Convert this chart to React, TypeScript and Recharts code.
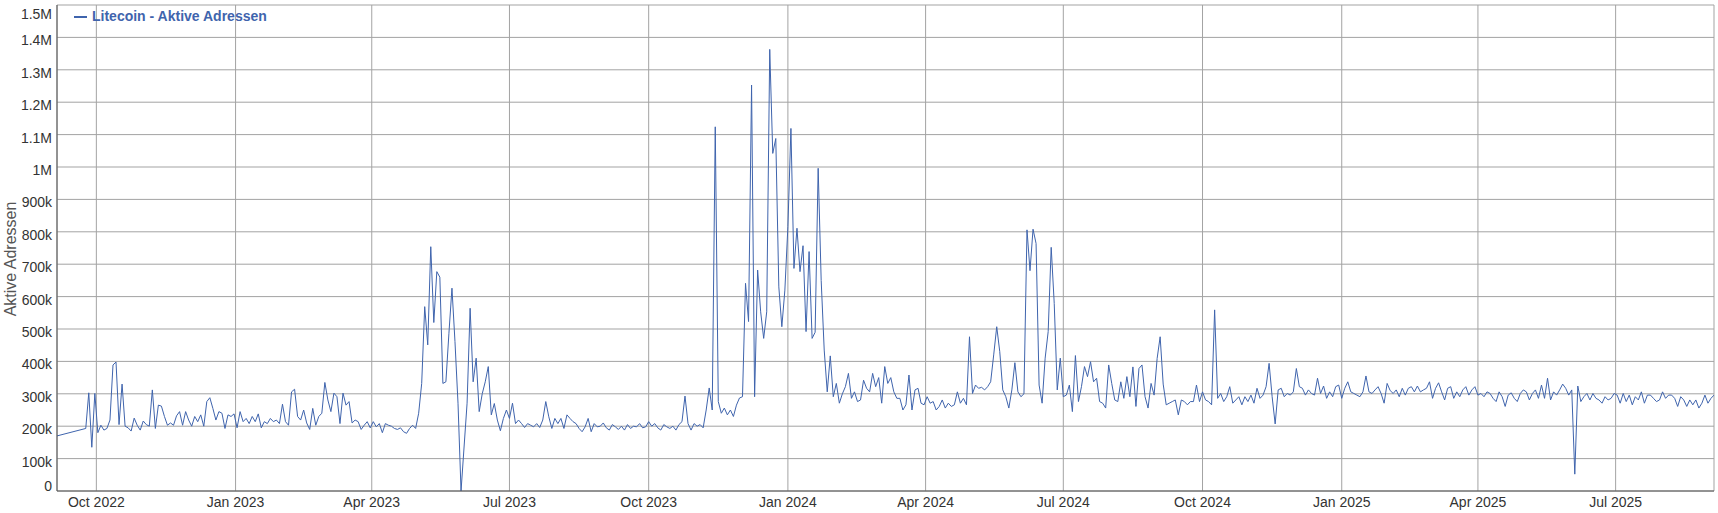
import { LineChart, Line, XAxis, YAxis, CartesianGrid } from "recharts"

// Litecoin active addresses, in thousands, one value every 2 days from 24 Sep 2022
const sep2022ToApr2023 = [
    193, 303, 135, 301, 180, 203, 188, 193, 219, 389,
    398, 205, 330, 200, 195, 185, 225, 203, 188, 216,
    205, 200, 312, 193, 265, 262, 230, 203, 210, 203,
    232, 245, 203, 245, 219, 200, 230, 214, 235, 200,
    276, 288, 255, 219, 245, 240, 193, 235, 230, 238,
    195, 245, 214, 224, 208, 230, 214, 238, 195, 214,
    208, 224, 214, 219, 208, 268, 214, 203, 306, 314,
    230, 219, 250, 210, 190, 255, 203, 230, 240, 335,
    281, 245, 302, 291, 208, 302, 265, 276, 210, 219,
    214, 190, 203, 214, 195, 214, 198, 208, 180, 208,
]

const apr2023ToOct2023 = [
    203, 200, 193, 190, 195, 183, 178, 193, 203, 193,
    240, 332, 569, 451, 754, 520, 677, 660, 332, 337,
    487, 626, 461, 271, 0, null, 271, 564, 337, 410,
    245, 300, 337, 384, 235, 270, 219, 186, 224, 250,
    224, 271, 208, 219, 208, 196, 208, 203, 198, 208,
    196, 219, 276, 229, 193, 224, 208, 224, 193, 235,
    224, 214, 208, 193, 183, 198, 224, 183, 208, 198,
    200, 210, 195, 188, 205, 198, 190, 200, 188, 205,
    193, 200, 198, 208, 195, 198, 214, 200, 208, 195,
    188, 205, 198, 193, 200, 188, 205, 214, 293, 208,
]

const oct2023ToMay2024 = [
    188, 208, 200, 205, 195, 250, 318, 250, 1124, 276,
    240, 256, 235, 250, 230, 265, 287, 291, 641, 523,
    1253, 291, 682, 553, 471, 553, 1363, 1042, 1088, 630,
    507, 620, 816, 1119, 687, 811, 677, 757, 492, 739,
    471, 490, 996, 650, 435, 306, 417, 291, 332, 271,
    300, 322, 363, 286, 306, 276, 281, 342, 317, 306,
    363, 322, 350, 271, 384, 332, 350, 306, 286, 286,
    250, 266, 358, 250, 312, 317, 271, 266, 291, 271,
    276, 250, 261, 281, 256, 271, 261, 266, 306, 271,
    286, 266, 476, 301, 327, 317, 320, 312, 322, 337,
]

const may2024ToDec2024 = [
    420, 507, 430, 312, 291, 256, 312, 396, 306, 291,
    300, 806, 680, 808, 764, 327, 271, 410, 492, 752,
    579, 312, 410, 291, 296, 327, 245, 418, 276, 322,
    384, 353, 399, 337, 348, 276, 271, 256, 389, 332,
    281, 276, 337, 286, 353, 291, 383, 261, 378, 389,
    291, 256, 332, 296, 409, 476, 330, 266, 271, 276,
    281, 235, 281, 276, 266, 276, 276, 327, 276, 306,
    281, 276, 266, 559, 286, 301, 276, 291, 322, 271,
    281, 291, 266, 291, 276, 296, 271, 317, 286, 296,
    322, 394, 291, 207, 312, 317, 291, 301, 296, 306,
]

const dec2024ToSep2025 = [
    378, 322, 317, 296, 312, 301, 296, 348, 301, 324,
    286, 306, 291, 322, 327, 286, 317, 337, 306, 301,
    296, 291, 306, 355, 306, 301, 312, 322, 301, 271,
    332, 310, 301, 312, 291, 317, 296, 317, 322, 306,
    324, 306, 312, 317, 337, 286, 317, 334, 306, 281,
    317, 322, 286, 306, 291, 312, 322, 296, 312, 322,
    296, 301, 291, 306, 301, 286, 276, 306, 291, 261,
    296, 303, 286, 276, 301, 312, 306, 281, 301, 312,
    286, 327, 286, 348, 281, 306, 296, 312, 330, 317,
    296, 312, 52, 324, 276, 291, 301, 281, 301, 286,
    281, 271, 291, 281, 286, 301, 296, 271, 301, 276,
    296, 266, 291, 281, 306, 271, 296, 296, 286, 276,
    281, 306, 286, 296, 296, 286, 261, 291, 281, 261,
    281, 266, 281, 256, 271, 296, 271, 286, 296,
]

// single reading before the gap in early September 2022
const firstReading = { date: Date.UTC(2022, 8, 5), value: 170 }

const xTickDates = [
    Date.UTC(2022, 9, 1), Date.UTC(2023, 0, 1), Date.UTC(2023, 3, 1), Date.UTC(2023, 6, 1),
    Date.UTC(2023, 9, 1), Date.UTC(2024, 0, 1), Date.UTC(2024, 3, 1), Date.UTC(2024, 6, 1),
    Date.UTC(2024, 9, 1), Date.UTC(2025, 0, 1), Date.UTC(2025, 3, 1), Date.UTC(2025, 6, 1),
]
const xTickLabels = [
    "Oct 2022", "Jan 2023", "Apr 2023", "Jul 2023",
    "Oct 2023", "Jan 2024", "Apr 2024", "Jul 2024",
    "Oct 2024", "Jan 2025", "Apr 2025", "Jul 2025",
]
const yTicks = [
    0, 100000, 200000, 300000, 400000, 500000, 600000, 700000,
    800000, 900000, 1000000, 1100000, 1200000, 1300000, 1400000, 1500000,
]

const DAY = 86400000
const START = Date.UTC(2022, 8, 24)
const STEP_DAYS = 2
const X_DOMAIN = [Date.UTC(2022, 8, 5), Date.UTC(2025, 8, 4)]

const LINE_COLOR = "#3f64ad"
const FONT = "'Liberation Sans', Arial, sans-serif"

const readings = [
    ...sep2022ToApr2023,
    ...apr2023ToOct2023,
    ...oct2023ToMay2024,
    ...may2024ToDec2024,
    ...dec2024ToSep2025,
]

const data = [
    { t: firstReading.date, v: firstReading.value * 1000 },
    ...readings
        .map((k, i) => (k === null ? null : { t: START + i * STEP_DAYS * DAY, v: k * 1000 }))
        .filter((p): p is { t: number; v: number } => p !== null),
]

const formatY = (v: number) => {
    if (v === 0) return "0"
    if (v >= 1000000) return `${v / 1000000}M`
    return `${v / 1000}k`
}

const YTick = (props: any) => {
    const { x, y, payload } = props
    // labels sit a little below their grid line, kept inside the plot at both ends
    const cy = Math.min(Math.max(y + 3, 14), 486)
    return (
        <text x={x} y={cy} dy={5} textAnchor="end" fill="#333" fontSize={14} fontFamily={FONT}>
            {formatY(payload.value)}
        </text>
    )
}

const XTick = (props: any) => {
    const { x, y, payload } = props
    const idx = xTickDates.indexOf(payload.value)
    return (
        <text x={x} y={y} dy={16} textAnchor="middle" fill="#333" fontSize={14} fontFamily={FONT}>
            {xTickLabels[idx]}
        </text>
    )
}

const YLabel = (props: any) => {
    const vb = props.viewBox
    const cx = 10
    const cy = vb.y + vb.height / 2 + 11
    return (
        <text
            x={cx}
            y={cy}
            transform={`rotate(-90, ${cx}, ${cy})`}
            textAnchor="middle"
            dominantBaseline="central"
            fill="#555"
            fontSize={16}
            fontFamily={FONT}
        >
            Aktive Adressen
        </text>
    )
}

export default function App() {
    return (
        <div style={{ position: "absolute", left: 0, top: 0, width: 1718, height: 513, background: "#fff" }}>
            <LineChart width={1718} height={513} data={data} margin={{ top: 5, right: 4, bottom: 0, left: 0 }}>
                <CartesianGrid stroke="#a3a3a3" strokeWidth={1} />
                <XAxis
                    dataKey="t"
                    type="number"
                    domain={X_DOMAIN}
                    ticks={xTickDates}
                    allowDataOverflow
                    height={22}
                    tickSize={0}
                    tickMargin={0}
                    tickLine={false}
                    axisLine={{ stroke: "#555" }}
                    tick={<XTick />}
                />
                <YAxis
                    type="number"
                    domain={[0, 1500000]}
                    ticks={yTicks}
                    width={57}
                    tickSize={5}
                    tickMargin={0}
                    tickLine={false}
                    axisLine={{ stroke: "#555" }}
                    tick={<YTick />}
                    label={{ content: <YLabel /> }}
                />
                <Line
                    type="linear"
                    dataKey="v"
                    stroke={LINE_COLOR}
                    strokeWidth={1}
                    dot={false}
                    activeDot={false}
                    isAnimationActive={false}
                />
            </LineChart>

            {/* Legend */}
            <div
                style={{
                    position: "absolute",
                    left: 74,
                    top: 8,
                    display: "flex",
                    alignItems: "center",
                    gap: 5,
                    fontFamily: FONT,
                    fontSize: 14,
                    fontWeight: "bold",
                    color: LINE_COLOR,
                    lineHeight: "17px",
                }}
            >
                <span style={{ display: "inline-block", width: 13, height: 2, background: LINE_COLOR }}></span>
                <span>Litecoin - Aktive Adressen</span>
            </div>
        </div>
    )
}
